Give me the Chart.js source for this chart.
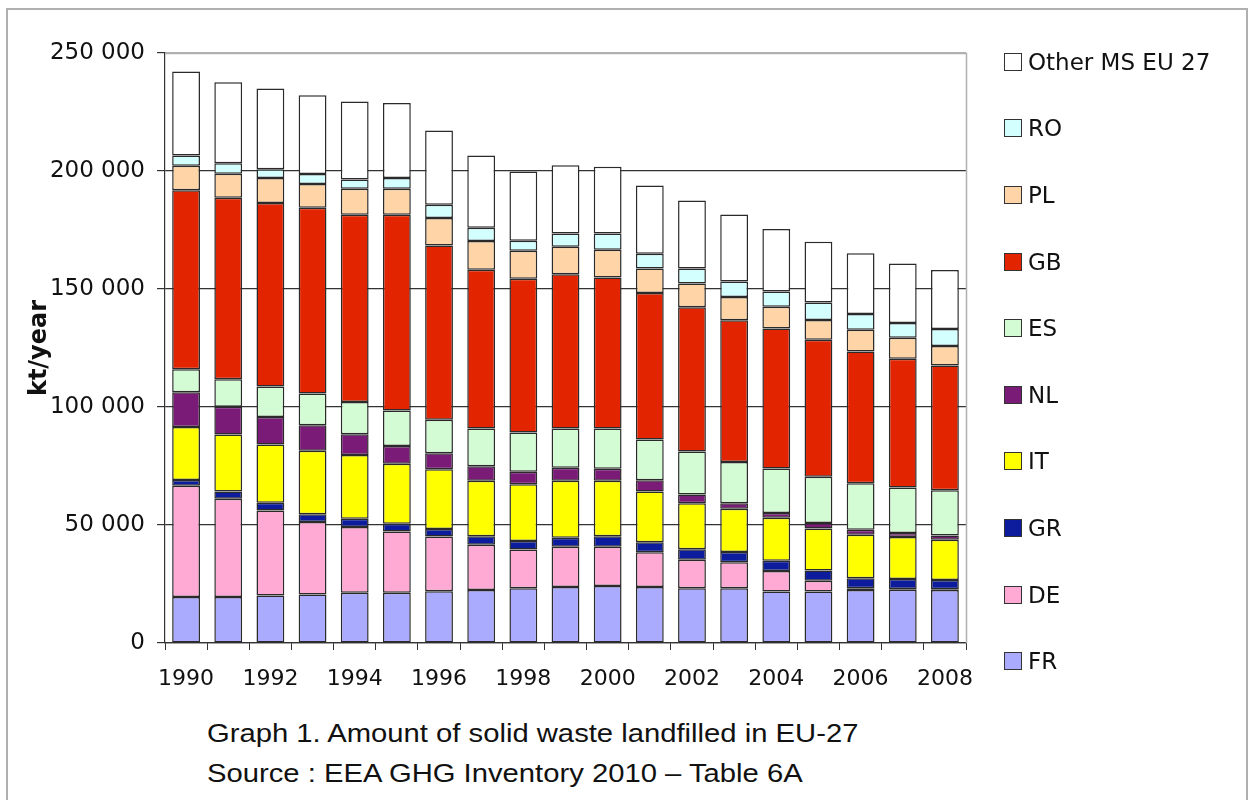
<!DOCTYPE html>
<html>
<head>
<meta charset="utf-8">
<title>Amount of solid waste landfilled in EU-27</title>
<script src="https://cdn.jsdelivr.net/npm/chart.js@4.4.1/dist/chart.umd.min.js"></script>
<style>
  html, body { margin: 0; padding: 0; background: #ffffff; }
  body { width: 1253px; height: 800px; position: relative; overflow: hidden; }
  #frame {
    position: absolute; left: 6px; top: 8px; width: 1242px; height: 900px;
    border: 2px solid #b0b0b0; box-sizing: border-box;
  }
  #chart { position: absolute; left: 0; top: 0; }
  #legend { position: absolute; left: 0; top: 0; }
  .lg-item { position: absolute; left: 1004px; height: 18px; }
  .lg-box {
    position: absolute; left: 0; top: 0; width: 18px; height: 18px;
    box-sizing: border-box; border: 1.5px solid #333;
  }
  .lg-text {
    position: absolute; left: 24px; top: -5px; white-space: nowrap;
    font: 23px "DejaVu Sans", sans-serif; color: #111; line-height: 28px;
  }
  #caption {
    position: absolute; left: 207px; top: 713px;
    font: 26px "Liberation Sans", Arial, sans-serif; color: #111;
    line-height: 40px; transform: scaleX(1.124); transform-origin: left top;
    white-space: nowrap;
  }
</style>
</head>
<body>
<div id="frame"></div>
<canvas id="chart" width="1253" height="700"></canvas>
<div id="legend"></div>
<div id="caption">Graph 1. Amount of solid waste landfilled in EU-27<br>Source : EEA GHG Inventory 2010 – Table 6A</div>
<script>
// Years on the category axis
const years = ['1990','1991','1992','1993','1994','1995','1996','1997','1998','1999',
               '2000','2001','2002','2003','2004','2005','2006','2007','2008'];

// Y axis ticks (kt/year)
const yTicks = [0, 50000, 100000, 150000, 200000, 250000];

// Landfilled solid waste per member state, kt/year
const FR    = [19500,19500,20100,20600,21300,21300,21900,22500,23200,23700,24200,23700,23200,23200,21800,21800,22500,22600,22500];
const DE    = [47100,41600,36000,30700,27800,25900,23200,19100,16400,17100,16600,14800,12100,11000, 8700, 4600,  700,  300,  300];
const GR    = [ 2500, 3100, 3300, 3300, 3500, 3300, 3200, 3600, 3600, 3800, 4400, 4200, 4400, 4400, 4300, 4300, 4200, 4200, 3900];
const IT    = [22400,24100,24700,26900,27100,25500,25300,23600,24100,24200,23600,21500,19500,18300,18300,17800,18500,17800,17000];
const NL    = [14800,11800,11700,10800, 8800, 7500, 6800, 6100, 5300, 5500, 5000, 4800, 3700, 2300, 2000, 2400, 2100, 1700, 1800];
const ES    = [ 9700,11700,12900,13400,13600,15000,14200,16000,16600,16600,17100,17200,18200,17500,18800,19500,19700,19300,19200];
const GB    = [75800,76900,77700,78700,79400,83000,73800,67300,65100,65300,64000,62100,61200,60100,59400,58100,55800,54500,52900];
const PL    = [10400,10100,10600,10100,11000,11000,11700,12100,11900,11700,11700,10400,10000, 9800, 9200, 8400, 9200, 8900, 8300];
const RO    = [ 4400, 4500, 3700, 4200, 3900, 4500, 5600, 5700, 4200, 5600, 6900, 6200, 6400, 6600, 6400, 7400, 6700, 6300, 7100];
const OTHER = [35600,34300,34300,33400,33000,31800,31500,30600,29400,28900,28300,29000,28800,28400,26500,25700,25700,25200,25000];

// Series from the bottom of each stack to the top
const series = [
  { label: 'FR',             data: FR,    color: '#aaaaff' },
  { label: 'DE',             data: DE,    color: '#ffaad4' },
  { label: 'GR',             data: GR,    color: '#0c1c9c' },
  { label: 'IT',             data: IT,    color: '#ffff00' },
  { label: 'NL',             data: NL,    color: '#7b1b78' },
  { label: 'ES',             data: ES,    color: '#d4fcd4' },
  { label: 'GB',             data: GB,    color: '#e32400' },
  { label: 'PL',             data: PL,    color: '#ffd4a6' },
  { label: 'RO',             data: RO,    color: '#d4ffff' },
  { label: 'Other MS EU 27', data: OTHER, color: '#ffffff' }
];

const FONT = '"DejaVu Sans", sans-serif';
const fmt = v => String(v).replace(/\B(?=(\d{3})+(?!\d))/g, ' ');

// Grey frame along the top and right edges of the plot area
const plotFrame = {
  id: 'plotFrame',
  beforeDatasetsDraw(chart) {
    const { ctx, chartArea: a } = chart;
    ctx.save();
    ctx.strokeStyle = '#b0b0b0';
    ctx.lineWidth = 1.5;
    ctx.beginPath();
    ctx.moveTo(a.left, Math.round(a.top) + 0.5);
    ctx.lineTo(Math.round(a.right) + 0.5, Math.round(a.top) + 0.5);
    ctx.lineTo(Math.round(a.right) + 0.5, a.bottom);
    ctx.stroke();
    ctx.restore();
  }
};

const chart = new Chart(document.getElementById('chart'), {
  type: 'bar',
  data: {
    labels: years,
    datasets: series.map(s => ({
      label: s.label,
      data: s.data,
      backgroundColor: s.color,
      borderColor: '#2a2a2a',
      borderWidth: 1.5,
      borderSkipped: false,
      categoryPercentage: 1.0,
      barPercentage: 0.66
    }))
  },
  options: {
    responsive: false,
    animation: false,
    devicePixelRatio: 1,
    layout: { padding: { left: 24, top: 53, right: 287, bottom: 0 } },
    plugins: {
      legend: { display: false },
      tooltip: { enabled: false }
    },
    scales: {
      x: {
        stacked: true,
        afterFit: s => { s.height = 57; },
        grid: {
          offset: true,
          drawOnChartArea: false,
          tickLength: 7,
          color: '#333333',
          tickColor: '#333333'
        },
        border: { color: '#333333', width: 1.2 },
        ticks: {
          autoSkip: false,
          maxRotation: 0,
          padding: 16,
          color: '#111111',
          font: { family: FONT, size: 22 },
          callback: (v, i) => (i % 2 === 0 ? years[i] : '')
        }
      },
      y: {
        stacked: true,
        min: yTicks[0],
        max: yTicks[yTicks.length - 1],
        afterFit: s => { s.width = 141; },
        afterBuildTicks: s => { s.ticks = yTicks.map(v => ({ value: v })); },
        grid: {
          tickLength: 8,
          color: ctx => (ctx.tick && ctx.tick.value === 250000 ? '#b0b0b0' : '#333333'),
          tickColor: '#333333',
          lineWidth: 1.2
        },
        border: { color: '#333333', width: 1.2 },
        ticks: {
          padding: 12,
          color: '#111111',
          font: { family: FONT, size: 23 },
          callback: v => fmt(v)
        },
        title: {
          display: true,
          text: 'kt/year',
          color: '#111111',
          padding: { top: 1, bottom: 0 },
          font: { family: FONT, size: 24, weight: 'bold' }
        }
      }
    }
  },
  plugins: [plotFrame]
});

// Legend built from the chart's datasets, top of the stack first
const legend = document.getElementById('legend');
chart.data.datasets.slice().reverse().forEach((ds, i) => {
  const item = document.createElement('div');
  item.className = 'lg-item';
  item.style.top = (52.7 + 66.6 * i) + 'px';
  const box = document.createElement('div');
  box.className = 'lg-box';
  box.style.background = ds.backgroundColor;
  const txt = document.createElement('div');
  txt.className = 'lg-text';
  txt.textContent = ds.label;
  item.appendChild(box);
  item.appendChild(txt);
  legend.appendChild(item);
});
</script>
</body>
</html>
